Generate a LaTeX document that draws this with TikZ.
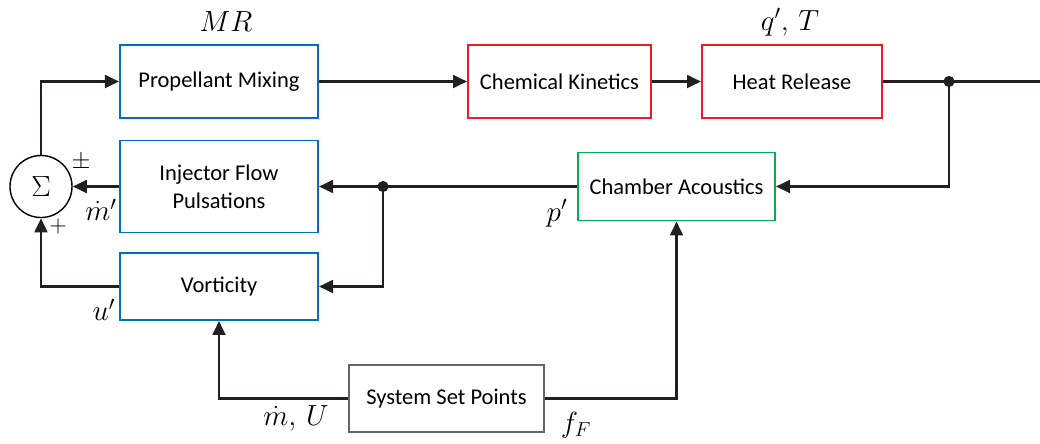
\documentclass[tikz,border=0pt]{standalone}
\usepackage{fontspec}
\setmainfont{Carlito}
\usetikzlibrary{arrows.meta}
\definecolor{boxblue}{RGB}{0,112,192}
\definecolor{boxred}{RGB}{237,28,36}
\definecolor{boxgreen}{RGB}{0,176,80}
\definecolor{wire}{RGB}{35,31,32}
\tikzset{
    block/.style={draw, line width=1.3pt, fill=white, align=center, inner sep=0pt,
        font=\fontsize{16}{20}\selectfont},
    wire/.style={draw=wire, line width=2pt},
    sig/.style={wire, -{Triangle[length=10pt,width=9pt]}},
    lbl/.style={font=\fontsize{21}{25}\selectfont, inner sep=1pt},
    dot/.style={fill=wire}
}
\begin{document}
\begin{tikzpicture}[x=0.025cm, y=-0.025cm]
        \useasboundingbox (0,0) rectangle (1040,443);

        \node[block, draw=boxblue, minimum width=4.95cm, minimum height=1.825cm] (mix) at (219,81.5) {Propellant Mixing};
        \node[block, draw=boxred, minimum width=4.575cm, minimum height=1.825cm] (kin) at (559.5,81.5) {Chemical Kinetics};
        \node[block, draw=boxred, minimum width=4.5cm, minimum height=1.825cm] (heat) at (792,81.5) {Heat Release};
        \node[block, draw=boxblue, minimum width=4.95cm, minimum height=2.3cm] (inj) at (219,186.5) {Injector Flow\\Pulsations};
        \node[block, draw=boxblue, minimum width=4.95cm, minimum height=1.675cm] (vort) at (219,286.5) {Vorticity};
        \node[block, draw=boxgreen, minimum width=4.925cm, minimum height=1.7cm] (acou) at (676.5,186.5) {Chamber Acoustics};
        \node[block, draw=black!60, line width=0.8pt, minimum width=4.875cm, minimum height=1.675cm] (setp) at (446.5,398.5) {System Set Points};
        \node[circle, draw, line width=1pt, minimum size=1.55cm, font=\fontsize{22}{26}\selectfont] (sum) at (41,186.5) {$\Sigma$};

        \coordinate (tap) at (949,81.5);
        \coordinate (out) at (1040,81.5);
        \coordinate (split) at (383,186.5);

        % forward path
        \draw[sig] (sum.north) |- (mix.west);
        \draw[sig] (mix.east) -- (kin.west);
        \draw[sig] (kin.east) -- (heat.west);
        \draw[wire] (heat.east) -- (out);

        % feedback path
        \draw[sig] (tap) |- (acou.east);
        \draw[sig] (acou.west) -- (inj.east);
        \draw[sig] (split) |- (vort.east);
        \draw[sig] (inj.west) -- (sum.east);
        \draw[sig] (vort.west) -| (sum.south);
        \fill[dot] (tap) circle (0.14cm);
        \fill[dot] (split) circle (0.14cm);

        % set points
        \draw[sig] (setp.west) -| (vort.south);
        \draw[sig] (setp.east) -| (acou.south);

        \node[lbl] (mr) at (226,22) {$MR$};
        \node[lbl] (qt) at (790,22) {$q',\,T$};
        \node[font=\fontsize{18}{22}\selectfont, inner sep=0pt] (pm) at (81,162) {$\pm$};
        \node[font=\fontsize{18}{22}\selectfont, inner sep=0pt] (plus) at (58,226) {$+$};
        \node[lbl] (mdot) at (101,210) {$\dot m'$};
        \node[lbl] (uvel) at (104,310) {$u'$};
        \node[lbl] (pres) at (557,213) {$p'$};
        \node[lbl] (mu) at (296,418) {$\dot m,\,U$};
        \node[lbl] (ff) at (576,425) {$f_F$};
\end{tikzpicture}
\end{document}
